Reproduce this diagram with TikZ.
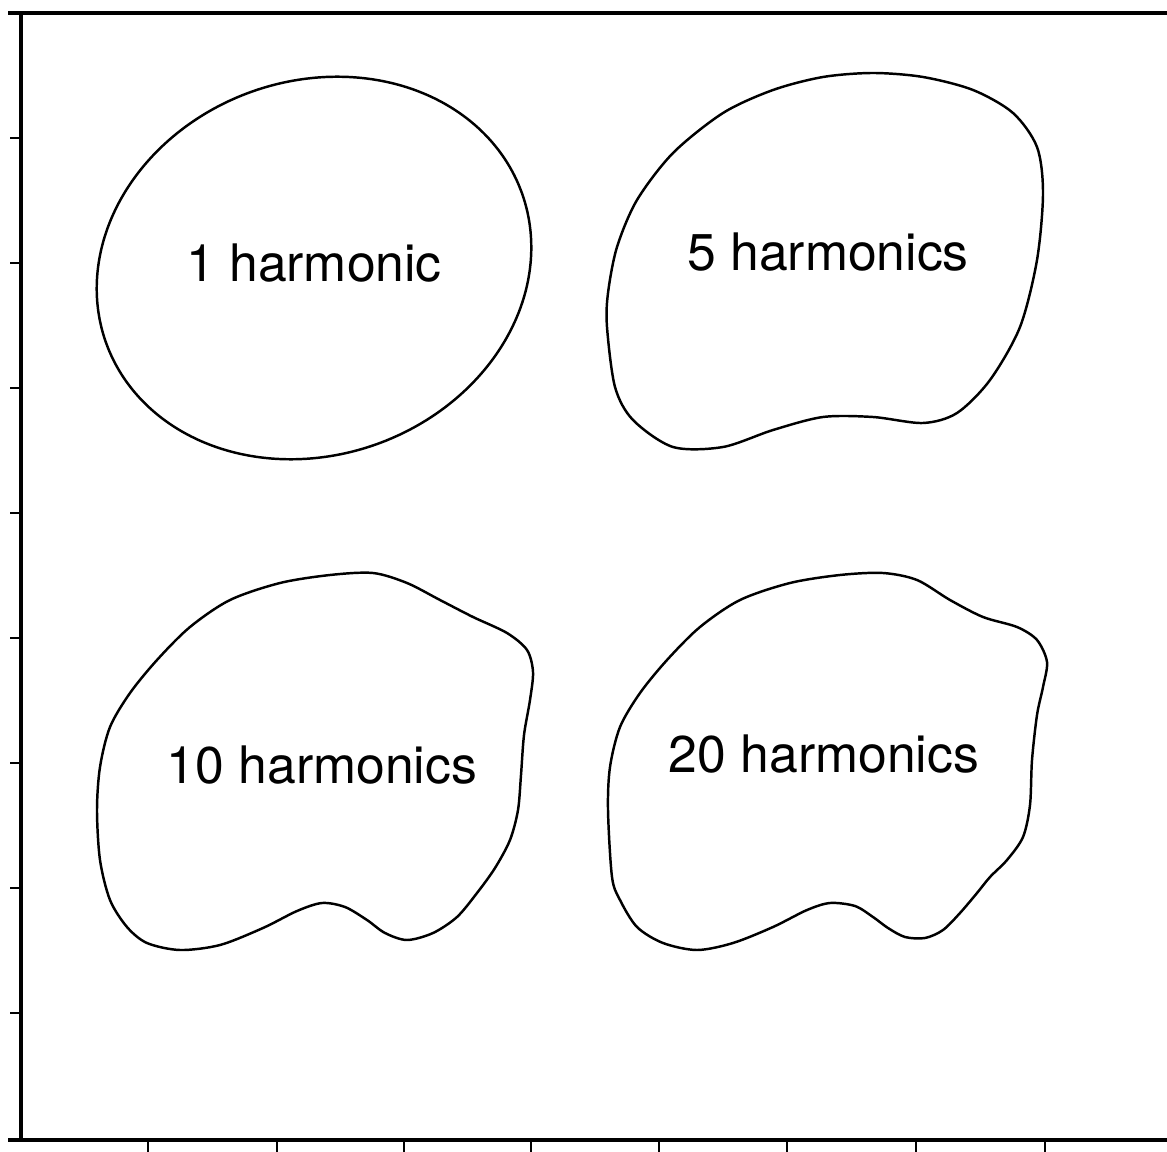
\documentclass[tikz,border=0pt]{standalone}
\usepackage{fontspec}
\setmainfont{TeX Gyre Heros}
\begin{document}
\begin{tikzpicture}[x=0.01cm,y=-0.01cm,
  frame/.style={line width=0.9pt,line cap=rect},
  tickmark/.style={line width=0.7pt},
  outline/.style={line width=0.7pt,smooth cycle,tension=0.5},
  lbl/.style={anchor=base,inner sep=0pt,font=\fontsize{14.7pt}{16pt}\selectfont}]
\useasboundingbox (0,0) rectangle (1167,1152);
% frame
\draw[frame] (10,13) -- (1167,13);
\draw[frame] (21,13) -- (21,1140);
\draw[frame] (10,1140) -- (1167,1140);
\foreach \yy in {138,263,388,513,638,763,888,1013}
  \draw[tickmark] (10,\yy) -- (21,\yy);
\foreach \xx in {148,277,404,531,659,787,916,1045}
  \draw[tickmark] (\xx,1140) -- (\xx,1152);
% 1 harmonic (tilted ellipse)
\draw[line width=0.7pt] plot[domain=0:360,samples=120,smooth cycle]
  ({314+221*cos(\x)*cos(20)+187*sin(\x)*sin(20)},{268-221*cos(\x)*sin(20)+187*sin(\x)*cos(20)});
% 5 harmonics
\draw[outline] plot coordinates {(608,293) (607,327) (615,387) (633,420) (673,447) (723,447) (773,430) (823,417) (873,417) (923,423) (957,413) (990,380) (1020,327) (1037,260) (1043,193) (1037,147) (1013,113) (973,90) (923,77) (873,73) (823,77) (773,90) (723,113) (673,153) (637,200) (617,247)};
% 10 harmonics
\draw[outline] plot coordinates {(97,810) (100,767) (110,727) (130,693) (157,660) (190,627) (230,600) (280,583) (330,575) (373,573) (407,583) (440,600) (473,617) (507,633) (527,650) (533,672) (530,700) (524,735) (521,775) (518,810) (510,840) (495,868) (477,893) (457,917) (433,933) (407,940) (385,933) (367,920) (345,907) (322,903) (297,911) (263,928) (220,945) (180,950) (147,943) (127,927) (110,900) (100,860)};
% 20 harmonics
\draw[outline] plot coordinates {(608,810) (610,767) (620,727) (640,693) (667,660) (700,627) (740,600) (790,583) (840,575) (883,573) (917,580) (950,600) (983,617) (1017,627) (1037,640) (1047,662) (1043,687) (1037,715) (1032,760) (1030,805) (1023,837) (1007,860) (990,877) (977,893) (960,913) (943,930) (925,938) (905,937) (888,928) (873,917) (855,906) (830,903) (807,910) (773,927) (733,943) (697,950) (663,943) (637,927) (620,900) (612,877)};
% labels
\node[lbl] (h1) at (314,282) {1 harmonic};
\node[lbl] (h5) at (828,271) {5 harmonics};
\node[lbl] (h10) at (322,783) {10 harmonics};
\node[lbl] (h20) at (824,772) {20 harmonics};
\end{tikzpicture}
\end{document}
